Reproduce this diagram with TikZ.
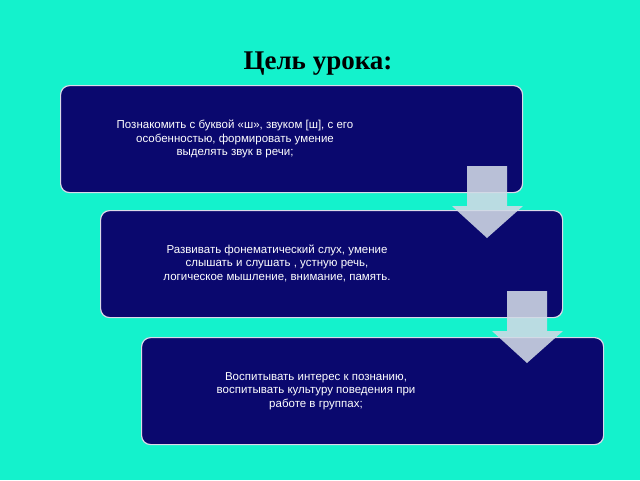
\documentclass[tikz,border=0pt]{standalone}
\usepackage{fontspec}
\setmainfont{Liberation Serif}
\newfontfamily\boxfont{Liberation Sans}
\definecolor{bgc}{RGB}{20,242,204}
\definecolor{boxc}{RGB}{10,8,110}
\definecolor{arrc}{RGB}{210,218,230}
\begin{document}
\begin{tikzpicture}[x=1pt,y=-1pt,
  goalbox/.style={draw=white!85!boxc,line width=1.2pt,fill=boxc,rounded corners=9pt,minimum width=462pt,minimum height=107pt,anchor=north west},
  goaltext/.style={text=white,font=\boxfont\fontsize{11.5}{13.5}\selectfont,align=center}]
\fill[bgc] (0,0) rectangle (640,480);
\useasboundingbox (0,0) rectangle (640,480);
\node[font=\bfseries\fontsize{27}{30}\selectfont] (title) at (318,64) {Цель урока:};
\node[goalbox] (b1) at (60,85) {};
\node[goalbox] (b2) at (100,210) {};
\node[goalbox] (b3) at (141,337) {};
\node[goaltext] (t1) at (235,139) {Познакомить с буквой «ш», звуком [ш], с его\\особенностью, формировать умение\\выделять звук в речи;};
\node[goaltext] (t2) at (277,263) {Развивать фонематический слух, умение\\слышать и слушать , устную речь,\\логическое мышление, внимание, память.};
\node[goaltext] (t3) at (316,391) {Воспитывать интерес к познанию,\\воспитывать культуру поведения при\\работе в группах;};
\fill[arrc,opacity=0.88] (467,166) -- (507,166) -- (507,206) -- (523,206) -- (487,238) -- (452,206) -- (467,206) -- cycle;
\fill[arrc,opacity=0.88] (507,291) -- (547,291) -- (547,331) -- (563,331) -- (527,363) -- (492,331) -- (507,331) -- cycle;
\end{tikzpicture}
\end{document}
